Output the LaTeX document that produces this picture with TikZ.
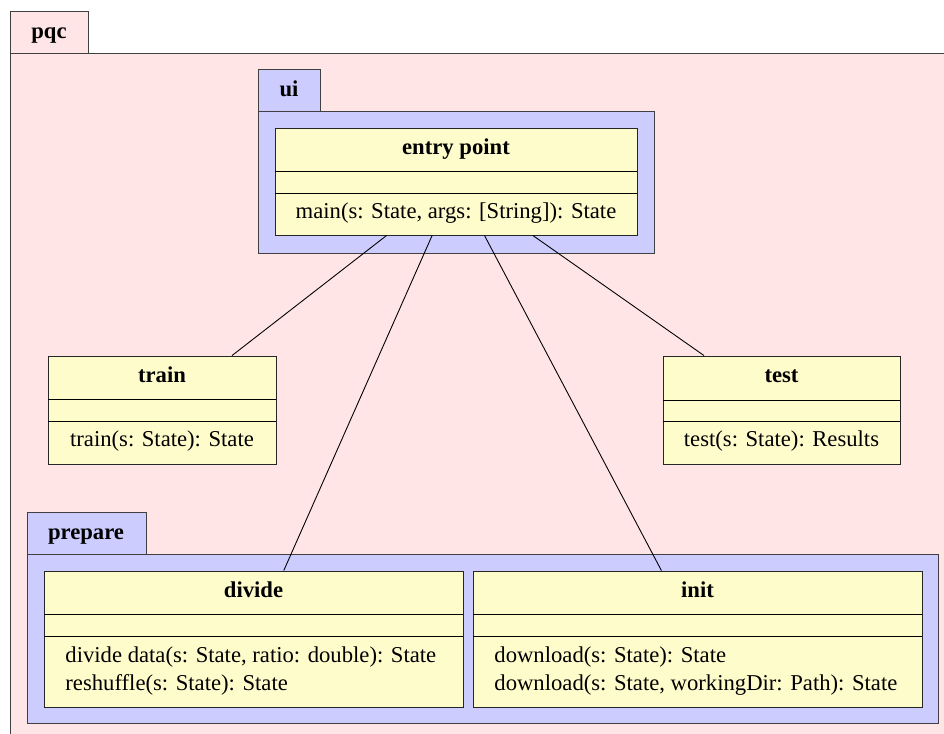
\documentclass[tikz,border=0pt]{standalone}
\usepackage{fontspec}
\setmainfont{Liberation Serif}
\usepackage{tikz}
\usetikzlibrary{fit}

\begin{document}
\begin{tikzpicture}[
        x=0.45pt, y=-0.45pt,
        every node/.style={font=\fontsize{10.2}{12}\selectfont},
        pkgouter/.style={draw=black!75, fill=red!10},
        pkginner/.style={draw=black!75, fill=blue!20},
        pkgname/.style={font=\fontsize{10.2}{12}\selectfont\bfseries, anchor=base},
        umlclass/.style={draw=black!85, fill=yellow!20, inner sep=0pt},
        classname/.style={font=\fontsize{10.2}{12}\selectfont\bfseries, anchor=base},
        operation/.style={anchor=base},
        opline/.style={anchor=base west, inner xsep=0pt},
        assoc/.style={draw=black, thin}
    ]
    \clip (0,0) rectangle (944,734);

    % Package pqc
    \filldraw[pkgouter] (10,11) rectangle (88,53);
    \filldraw[pkgouter] (10,53) rectangle (960,760);
    \node[pkgname] (pqc) at (49,39) {pqc};

    % Package ui
    \filldraw[pkginner] (258,69) rectangle (320,111);
    \filldraw[pkginner] (258,111) rectangle (654,253);
    \node[pkgname] (ui) at (289,97) {ui};

    % Package prepare
    \filldraw[pkginner] (27,512) rectangle (146,554);
    \filldraw[pkginner] (27,554) rectangle (938,723);
    \node[pkgname] (prepare) at (86,540) {prepare};

    % Class entry point
    \node[umlclass, fit={(275,128) (637,235)}] (entry) {};
    \draw (275,171) -- (637,171);
    \draw (275,193) -- (637,193);
    \node[classname] (entryname) at (456,155) {entry point};
    \node[operation] (entryops) at (456,219) {main(s: State, args: [String]): State};

    % Class train
    \node[umlclass, fit={(48,356) (276,464)}] (train) {};
    \draw (48,399) -- (276,399);
    \draw (48,421) -- (276,421);
    \node[classname] (trainname) at (162,383) {train};
    \node[operation] (trainops) at (162,447) {train(s: State): State};

    % Class test
    \node[umlclass, fit={(663,356) (900,464)}] (test) {};
    \draw (663,400) -- (900,400);
    \draw (663,421) -- (900,421);
    \node[classname] (testname) at (781.5,383) {test};
    \node[operation] (testops) at (781.5,447) {test(s: State): Results};

    % Class divide
    \node[umlclass, fit={(44,571) (463,707)}] (divide) {};
    \draw (44,614) -- (463,614);
    \draw (44,636) -- (463,636);
    \node[classname] (dividename) at (253.5,598) {divide};
    \node[opline] (divideops1) at (65,663) {divide data(s: State, ratio: double): State};
    \node[opline] (divideops2) at (65,690) {reshuffle(s: State): State};

    % Class init
    \node[umlclass, fit={(473,571) (922,707)}] (init) {};
    \draw (473,614) -- (922,614);
    \draw (473,636) -- (922,636);
    \node[classname] (initname) at (697.5,598) {init};
    \node[opline] (initops1) at (494,663) {download(s: State): State};
    \node[opline] (initops2) at (494,690) {download(s: State, workingDir: Path): State};

    % Associations
    \draw[assoc] (entry) -- (train);
    \draw[assoc] (entry) -- (divide);
    \draw[assoc] (entry) -- (init);
    \draw[assoc] (entry) -- (test);

\end{tikzpicture}
\end{document}
